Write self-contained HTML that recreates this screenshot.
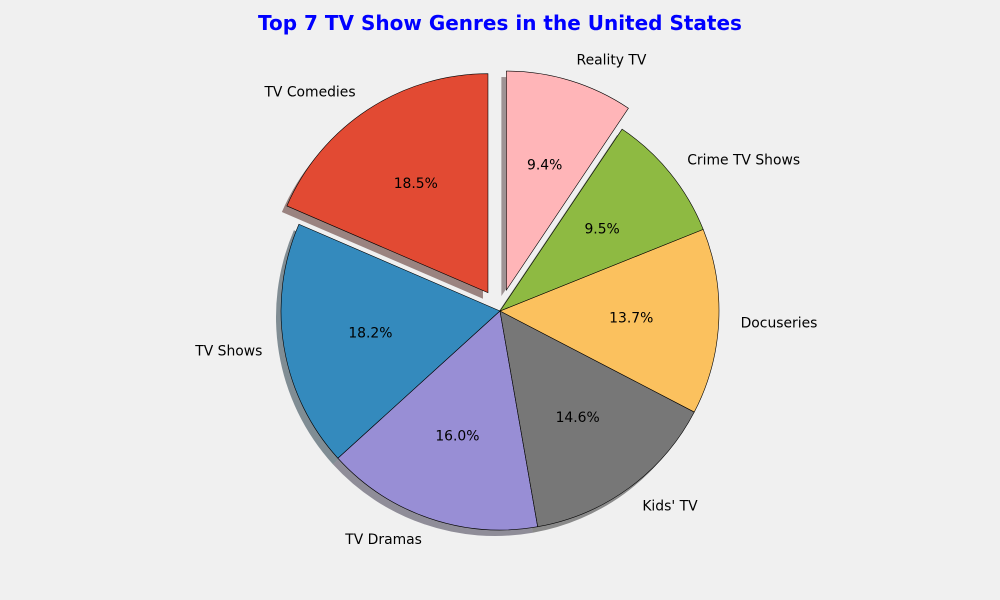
<!DOCTYPE html>
<html><head><meta charset="utf-8"><style>
body{margin:0;background:#f0f0f0;}
svg{display:block;font-family:"DejaVu Sans","Liberation Sans",sans-serif;}
</style></head><body>
<svg id="chart" width="1000" height="600" viewBox="0 0 1000 600">
<rect width="1000" height="600" fill="#f0f0f0"/>
<text x="500" y="30" text-anchor="middle" font-size="20" font-weight="bold" fill="#0000ff">Top 7 TV Show Genres in the United States</text>
<g id="shadows"></g><g id="wedges"></g><g id="labels"></g>
</svg>
<script>
const categories = ["TV Comedies","TV Shows","TV Dramas","Kids' TV","Docuseries","Crime TV Shows","Reality TV"];
const values = [18.5,18.2,16.0,14.6,13.7,9.5,9.4];
const explode = [0.1,0,0,0,0,0,0.1];
const colors = ["#E24A33","#348ABD","#988ED5","#777777","#FBC15E","#8EBA42","#FFB5B8"];
const cx=500, cy=311, R=219;
const ns="http://www.w3.org/2000/svg";
const total=values.reduce((a,b)=>a+b,0);
function mk(tag,attrs){const e=document.createElementNS(ns,tag);for(const k in attrs)e.setAttribute(k,attrs[k]);return e;}
function pt(x,y,r,a){return [x+r*Math.cos(a), y-r*Math.sin(a)];}
function wedgePath(x,y,a0,a1){
  const p0=pt(x,y,R,a0), p1=pt(x,y,R,a1);
  const large=(a1-a0)>Math.PI?1:0;
  return `M${x},${y} L${p0[0]},${p0[1]} A${R},${R} 0 ${large} 0 ${p1[0]},${p1[1]} Z`;
}
function darken(hex){const n=parseInt(hex.slice(1),16);const r=(n>>16)*0.3|0,g=((n>>8)&255)*0.3|0,b=(n&255)*0.3|0;return `rgb(${r},${g},${b})`;}
let ang=Math.PI/2;
const sh=document.getElementById('shadows'),wg=document.getElementById('wedges'),lb=document.getElementById('labels');
categories.forEach((c,i)=>{
  const span=values[i]/total*2*Math.PI;
  const a0=ang,a1=ang+span,mid=(a0+a1)/2;
  const x=cx+explode[i]*R*Math.cos(mid), y=cy-explode[i]*R*Math.sin(mid);
  const s=mk('path',{d:wedgePath(x-5,y+6,a0,a1),fill:darken(colors[i]),'fill-opacity':0.5});
  
  
  sh.appendChild(s);
  const w=mk('path',{d:wedgePath(x,y,a0,a1),fill:colors[i],stroke:'#000','stroke-width':0.6});
  
  
  wg.appendChild(w);
  const lp=pt(x,y,1.1*R,mid);
  const t=mk('text',{x:lp[0],y:lp[1]+5,'font-size':13.9,'text-anchor':Math.cos(mid)<0?'end':'start',fill:'#000'});
  t.textContent=c;
  
  
  lb.appendChild(t);
  const pp=pt(x,y,0.6*R,mid);
  const p=mk('text',{x:pp[0],y:pp[1]+5,'font-size':13.9,'text-anchor':'middle',fill:'#000'});
  p.textContent=(values[i]/total*100).toFixed(1)+'%';
  
  
  lb.appendChild(p);
  ang=a1;
});
</script>
</body></html>
